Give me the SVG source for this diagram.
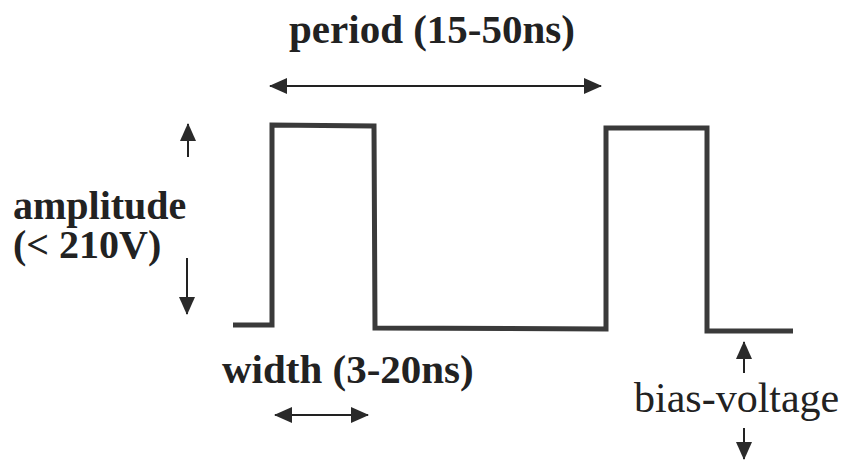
<svg xmlns="http://www.w3.org/2000/svg" width="846" height="465" viewBox="0 0 846 465">
<defs>
<marker id="ah" viewBox="0 0 18 16" refX="17" refY="8" markerWidth="18" markerHeight="16" markerUnits="userSpaceOnUse" orient="auto-start-reverse">
<path d="M0,0 L18,8 L0,16 Z" fill="#2a2a2a"/>
</marker>
<linearGradient id="fade" x1="0" x2="1" y1="0" y2="0">
<stop offset="0" stop-color="#555"/>
<stop offset="0.6" stop-color="#999"/>
<stop offset="1" stop-color="#e0e0e0"/>
</linearGradient>
</defs>
<style>
.lbl{font-family:"Liberation Serif","Times New Roman",serif;font-weight:bold;font-size:41px;fill:#222}
.amp{font-size:40px}
.reg{font-family:"Liberation Serif","Times New Roman",serif;font-size:42px;fill:#222}
.wave{fill:none;stroke:#3a3a3a;stroke-width:5;stroke-linejoin:miter}
.arr{fill:none;stroke:#222;stroke-width:2}
</style>
<g id="waveform">
<path class="wave" d="M233,325 L272,325 L272,125 L374,126 L375,328 L606,329 L606,128 L707,128 L707,331 L793,331"/>
</g>
<g id="period-label"><text class="lbl" x="432" y="43" text-anchor="middle">period (15-50ns)</text></g>
<g id="amplitude-label">
<text class="lbl amp" x="13" y="219">amplitude</text>
<text class="lbl amp" x="13" y="258">(&lt; 210V)</text>
</g>
<g id="width-label"><text class="lbl" x="222" y="383">width (3-20ns)</text></g>
<g id="bias-label"><text class="reg" x="634" y="412">bias-voltage</text></g>
<g id="connectors">
<line class="arr" x1="270" y1="86" x2="601" y2="86" marker-start="url(#ah)" marker-end="url(#ah)"/>
<line class="arr" x1="188" y1="157" x2="188" y2="124" marker-end="url(#ah)"/>
<line class="arr" x1="187" y1="258" x2="187" y2="314" marker-end="url(#ah)"/>
<line class="arr" x1="275" y1="415" x2="368" y2="415" marker-start="url(#ah)" marker-end="url(#ah)"/>
<line class="arr" x1="744" y1="373" x2="744" y2="342" marker-end="url(#ah)"/>
<line class="arr" x1="744" y1="428" x2="744" y2="459" marker-end="url(#ah)"/>
</g>
<line x1="252" y1="462" x2="580" y2="462" stroke="url(#fade)" stroke-width="1.5" stroke-dasharray="2,1"/>
</svg>
